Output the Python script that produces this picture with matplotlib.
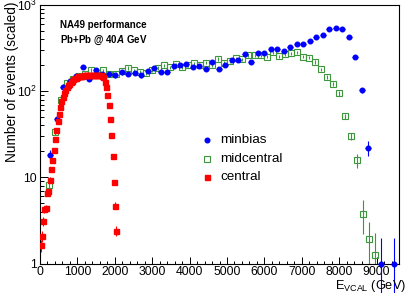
import numpy as np
import matplotlib
matplotlib.use('Agg')
import matplotlib.pyplot as plt
from matplotlib.lines import Line2D
from matplotlib.ticker import FixedLocator, FixedFormatter, MultipleLocator, LogLocator, NullFormatter

plt.rcParams['font.family'] = ['Liberation Sans', 'DejaVu Sans']
plt.rcParams['mathtext.fontset'] = 'custom'
plt.rcParams['mathtext.rm'] = 'Liberation Sans'
plt.rcParams['mathtext.it'] = 'Liberation Sans:italic'
plt.rcParams['mathtext.bf'] = 'Liberation Sans:bold'
plt.rcParams['mathtext.bfit'] = 'Liberation Sans:bold:italic'

#------------------------------------------------------------------------------
# data
minbias_x = [275, 449, 622, 796, 969, 1142, 1316, 1489, 1663, 1836, 2009, 2183, 2356,
             2530, 2703, 2876, 3050, 3223, 3397, 3570, 3743, 3917, 4090, 4264, 4437, 4610,
             4784, 4957, 5131, 5304, 5477, 5651, 5824, 5998, 6171, 6344, 6518, 6691, 6865,
             7038, 7211, 7385, 7558, 7732, 7905, 8078, 8252, 8425, 8599, 8772, 9119, 9466]
minbias_y = [18, 48, 113, 130, 150, 190, 140, 177, 160, 158, 153, 165, 158, 162,
             153, 172, 184, 168, 168, 195, 200, 206, 192, 195, 179, 219, 179, 200, 233,
             233, 269, 219, 274, 279, 305, 305, 294, 327, 352, 352, 385, 421, 448, 521,
             535, 521, 428, 250, 103, 22, 1, 1]
minbias_err = [2.5, 4, 7, 8, 8, 10, 8, 9, 9, 9, 9, 9, 9, 9,
               9, 9, 10, 9, 9, 10, 10, 10, 10, 10, 9, 10, 9, 10, 11,
               11, 12, 10, 12, 12, 12, 12, 12, 13, 13, 13, 14, 14, 15, 16,
               16, 16, 15, 11, 7, 4.5, 1, 1]

midcentral_x = [242, 403, 565, 726, 888, 1050, 1211, 1373, 1534, 1696, 1858, 2019, 2181,
                2342, 2504, 2666, 2827, 2989, 3151, 3312, 3474, 3636, 3797, 3959, 4120, 4282,
                4444, 4605, 4767, 4928, 5090, 5252, 5413, 5575, 5736, 5898, 6060, 6221, 6383,
                6544, 6706, 6868, 7029, 7191, 7353, 7514, 7676, 7838, 7999, 8161, 8322, 8484,
                8646, 8807, 8969]
midcentral_y = [8.1, 34, 78, 125, 140, 150, 158, 176, 155, 175, 160, 160, 170,
                185, 175, 168, 163, 176, 187, 200, 189, 206, 189, 200, 210, 200,
                213, 200, 236, 213, 223, 240, 234, 262, 262, 262, 251, 282, 255,
                267, 274, 282, 251, 244, 219, 179, 147, 121, 94, 51, 30, 15.8,
                3.8, 1.9, 1.26]
midcentral_err = [1.2, 3, 5, 7, 7, 8, 8, 8, 8, 8, 8, 8, 8,
                  9, 8, 8, 8, 8, 9, 9, 9, 9, 9, 9, 9, 9,
                  9, 9, 10, 9, 10, 10, 10, 10, 10, 10, 10, 11, 10,
                  10, 11, 11, 10, 10, 10, 9, 8, 7, 6, 4, 3, 3,
                  1.6, 1.1, 1.0]

central_x = [14, 49, 84, 119, 154, 189, 224, 259, 294, 329, 364, 399, 434, 469, 504, 539,
             574, 609, 644, 679, 714, 749, 784, 819, 854, 889, 924, 959, 994, 1029, 1064,
             1099, 1134, 1169, 1204, 1239, 1274, 1309, 1344, 1379, 1414, 1449, 1484, 1519,
             1554, 1589, 1624, 1659, 1694, 1729, 1764, 1799, 1834, 1869, 1904, 1939, 1974,
             2009, 2044]
central_y = [1.62, 2.08, 3.1, 4.3, 4.4, 6.5, 6.9, 9.4, 12.6, 15.8, 21, 28, 35, 45, 55, 66,
             76, 86, 95, 104, 111, 117, 122, 127, 132, 137, 141, 144, 146, 148, 149,
             150, 151, 152, 153, 153, 154, 155, 154, 155, 155, 154, 155, 154,
             155, 154, 153, 151, 147, 128, 112, 90, 70, 47, 31, 17.5, 8.8,
             4.7, 2.4]
central_err = [0.25, 0.28, 0.35, 0.4, 0.4, 0.5, 0.5, 0.6, 0.7, 0.8, 1.0, 1.1, 1.2, 1.4, 1.5,
               1.6, 1.8, 1.9, 2, 2, 2.1, 2.2, 2.2, 2.3, 2.3, 2.4, 2.4, 2.4, 2.4, 2.5,
               2.5, 2.5, 2.5, 2.5, 2.5, 2.5, 2.5, 2.5, 2.5, 2.5, 2.5, 2.5, 2.5, 2.5, 2.5,
               2.5, 2.5, 2.5, 2.4, 2.3, 2.1, 1.9, 1.7, 1.4, 1.1, 0.8, 0.6, 0.45, 0.3]

ytick_vals = [1, 10, 100, 1000]
ytick_labels = ['1', '10', '$10^{2}$', '$10^{3}$']
legend_labels = ['minbias', 'midcentral', 'central']

#------------------------------------------------------------------------------
W, H = 407, 293
fig = plt.figure(figsize=(W/100, H/100), dpi=100)
ax = fig.add_axes([40/W, 29.5/H, 359/W, 258.5/H])

blue = '#0000ff'
green = '#3c963c'
red = '#ff0000'

def lower_err(y, e):
    # errors going to zero on a log axis are cut at the bottom
    y = np.array(y, float); e = np.array(e, float)
    return [np.minimum(e, y - 1e-3), e]

ax.errorbar(minbias_x, minbias_y, yerr=lower_err(minbias_y, minbias_err), xerr=80,
            fmt='o', ms=3.3, color=blue, mec=blue, elinewidth=0.8, capsize=0,
            clip_on=False, zorder=3)
ax.errorbar(midcentral_x, midcentral_y, yerr=lower_err(midcentral_y, midcentral_err),
            fmt='s', ms=3.9, mfc='none', mec=green, mew=0.8, color=green,
            elinewidth=0.8, capsize=0, zorder=2)
ax.errorbar(central_x, central_y, yerr=lower_err(central_y, central_err),
            fmt='s', ms=3.6, color=red, mec=red, elinewidth=0.8, capsize=0, zorder=4)

ax.set_yscale('log')
ax.set_xlim(0, 9600)
ax.set_ylim(1, 1000)

ax.xaxis.set_major_locator(MultipleLocator(1000))
ax.xaxis.set_minor_locator(MultipleLocator(200))
ax.yaxis.set_major_locator(FixedLocator(ytick_vals))
ax.yaxis.set_major_formatter(FixedFormatter(ytick_labels))
ax.yaxis.set_minor_locator(LogLocator(base=10, subs=np.arange(2, 10)))
ax.yaxis.set_minor_formatter(NullFormatter())
ax.tick_params(axis='both', which='both', direction='in', top=False, right=False,
               labelsize=8.8, width=0.7)
ax.tick_params(axis='x', which='major', length=5, pad=2)
ax.tick_params(axis='x', which='minor', length=2.3)
ax.tick_params(axis='y', which='major', length=6, pad=2)
ax.tick_params(axis='y', which='minor', length=3)
for s in ax.spines.values():
    s.set_linewidth(0.8)

# axis titles, ROOT style (right / top aligned)
fig.text(406/W, 1 - 289.5/H, r'E$_{\mathregular{VCAL}}$ (GeV)', ha='right', va='baseline',
         fontsize=9.2)
fig.text(12/W, 1 - 2/H, 'Number of events (scaled)', rotation=90, ha='center', va='top',
         fontsize=9.8)

# labels in the corner
fig.text(60/W, 1 - 25/H, 'NA49 performance', fontsize=7, fontweight='bold', va='center')
fig.text(60/W, 1 - 40/H, r'Pb+Pb @ 40$\mathbfit{A}$ GeV', fontsize=7, fontweight='bold',
         va='center')

# legend drawn by hand
leg_styles = [dict(marker='o', ms=3.3, color=blue, mec=blue),
              dict(marker='s', ms=3.9, mfc='none', mec=green, mew=0.8),
              dict(marker='s', ms=3.6, color=red, mec=red)]
for i, (lab, st) in enumerate(zip(legend_labels, leg_styles)):
    yy = 1 - (140 + 18.5*i)/H
    fig.add_artist(Line2D([207/W], [yy], transform=fig.transFigure, ls='none', **st))
    fig.text(220/W, yy, lab, fontsize=9.7, va='center')

fig.savefig('out.png', dpi=100)
